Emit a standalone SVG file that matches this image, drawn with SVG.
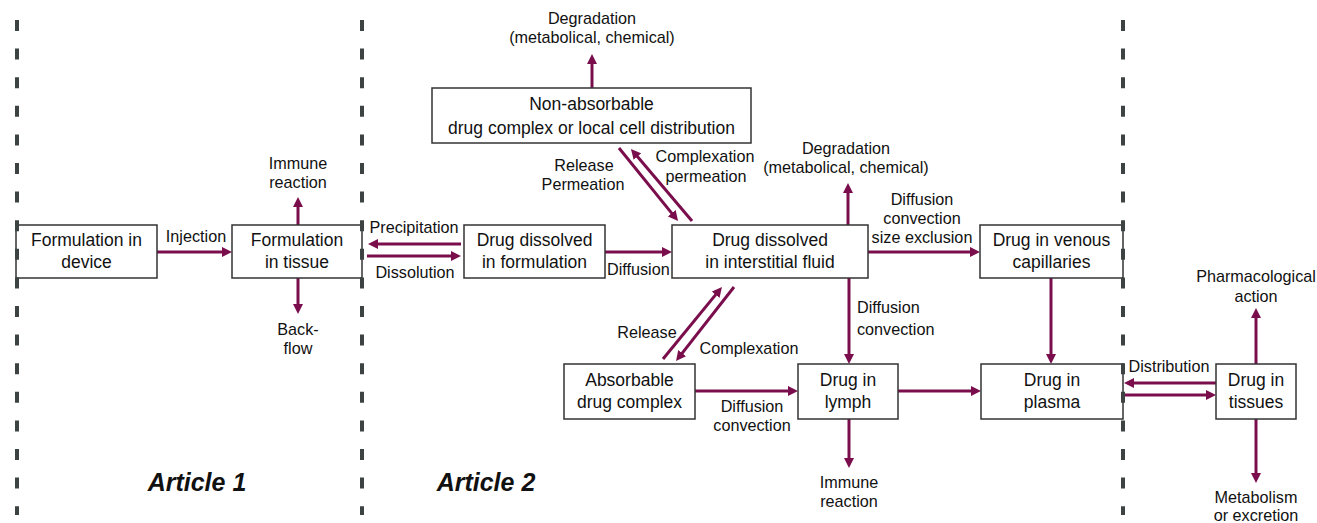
<svg xmlns="http://www.w3.org/2000/svg" width="1317" height="523" viewBox="0 0 1317 523">
<style>
.bg{fill:#ffffff}
.sep{stroke:#3d4343;stroke-width:4;stroke-dasharray:11 17.6;fill:none}
.box{fill:#ffffff;stroke:#333333;stroke-width:1.5}
.bt{font-family:"Liberation Sans",Arial,sans-serif;font-size:17.5px;fill:#111111;text-anchor:middle}
.lb{font-family:"Liberation Sans",Arial,sans-serif;font-size:16.2px;fill:#111111;text-anchor:middle}
.lbl{font-family:"Liberation Sans",Arial,sans-serif;font-size:16.2px;fill:#111111;text-anchor:start}
.art{font-family:"Liberation Sans",Arial,sans-serif;font-size:25px;font-weight:bold;font-style:italic;fill:#111111;text-anchor:middle}
.ar{stroke:#7a0e4c;stroke-width:3;fill:none;marker-end:url(#ah)}
</style>
<defs>
<marker id="ah" markerUnits="userSpaceOnUse" markerWidth="10" markerHeight="10" refX="5" refY="5" orient="auto">
<path d="M0,0 L10,5 L0,10 z" fill="#7a0e4c"/>
</marker>
</defs>
<rect class="bg" x="0" y="0" width="1317" height="523"/>
<g id="connectors">
<line class="ar" x1="157" y1="252" x2="227" y2="252"/>
<line class="ar" x1="298" y1="225" x2="298" y2="202"/>
<line class="ar" x1="298" y1="278" x2="298" y2="309"/>
<line class="ar" x1="461" y1="244" x2="373" y2="244"/>
<line class="ar" x1="367" y1="256" x2="456" y2="256"/>
<line class="ar" x1="605" y1="252" x2="667" y2="252"/>
<line class="ar" x1="592" y1="88" x2="592" y2="59"/>
<line class="ar" x1="619" y1="148" x2="674.9" y2="217.1"/>
<line class="ar" x1="692" y1="221" x2="634.2" y2="152.8"/>
<line class="ar" x1="848" y1="225" x2="848" y2="188"/>
<line class="ar" x1="868" y1="252" x2="975" y2="252"/>
<line class="ar" x1="849" y1="278" x2="849" y2="359"/>
<line class="ar" x1="663" y1="359" x2="718.8" y2="290.9"/>
<line class="ar" x1="734" y1="287" x2="679.1" y2="357.1"/>
<line class="ar" x1="695" y1="391" x2="793" y2="391"/>
<line class="ar" x1="898" y1="391" x2="976" y2="391"/>
<line class="ar" x1="849" y1="419" x2="849" y2="463"/>
<line class="ar" x1="1051" y1="278" x2="1051" y2="359"/>
<line class="ar" x1="1216" y1="383" x2="1129" y2="383"/>
<line class="ar" x1="1124" y1="395" x2="1211" y2="395"/>
<line class="ar" x1="1256" y1="364" x2="1256" y2="313"/>
<line class="ar" x1="1256" y1="419" x2="1256" y2="478"/>
</g>
<g id="labels">
<text class="lb" x="196" y="242">Injection</text>
<text class="lb" x="298" y="169">Immune</text>
<text class="lb" x="298" y="188">reaction</text>
<text class="lb" x="298" y="335">Back-</text>
<text class="lb" x="298" y="354">flow</text>
<text class="lb" x="414" y="233">Precipitation</text>
<text class="lb" x="415" y="278">Dissolution</text>
<text class="lbl" x="607" y="275">Diffusion</text>
<text class="lb" x="592" y="24">Degradation</text>
<text class="lb" x="592" y="43">(metabolical, chemical)</text>
<text class="lb" x="584" y="171">Release</text>
<text class="lb" x="583" y="190">Permeation</text>
<text class="lb" x="705" y="162">Complexation</text>
<text class="lb" x="706" y="182">permeation</text>
<text class="lb" x="846" y="154">Degradation</text>
<text class="lb" x="846" y="173">(metabolical, chemical)</text>
<text class="lb" x="922" y="205">Diffusion</text>
<text class="lb" x="922" y="224">convection</text>
<text class="lb" x="922" y="243">size exclusion</text>
<text class="lbl" x="857" y="313">Diffusion</text>
<text class="lbl" x="857" y="335">convection</text>
<text class="lb" x="647" y="338">Release</text>
<text class="lb" x="749" y="354">Complexation</text>
<text class="lb" x="752" y="412">Diffusion</text>
<text class="lb" x="752" y="431">convection</text>
<text class="lb" x="849" y="488">Immune</text>
<text class="lb" x="849" y="507">reaction</text>
<text class="lb" x="1169" y="372">Distribution</text>
<text class="lb" x="1256" y="282">Pharmacological</text>
<text class="lb" x="1256" y="302">action</text>
<text class="lb" x="1256" y="503">Metabolism</text>
<text class="lb" x="1256" y="521">or excretion</text>
<text class="art" x="197" y="491">Article 1</text>
<text class="art" x="486" y="491">Article 2</text>
</g>
<g id="node-device">
<rect class="box" x="16" y="225" width="141" height="53"/>
<text class="bt" x="86.5" y="246">Formulation in</text>
<text class="bt" x="86.5" y="268">device</text>
</g>
<g id="node-tissue">
<rect class="box" x="232" y="225" width="130" height="53"/>
<text class="bt" x="297" y="246">Formulation</text>
<text class="bt" x="297" y="268">in tissue</text>
</g>
<g id="node-formulation">
<rect class="box" x="464" y="225" width="141" height="53"/>
<text class="bt" x="534.5" y="246">Drug dissolved</text>
<text class="bt" x="534.5" y="268">in formulation</text>
</g>
<g id="node-interstitial">
<rect class="box" x="672" y="225" width="196" height="53"/>
<text class="bt" x="770" y="246">Drug dissolved</text>
<text class="bt" x="770" y="268">in interstitial fluid</text>
</g>
<g id="node-venous">
<rect class="box" x="980" y="225" width="143" height="53"/>
<text class="bt" x="1051.5" y="246">Drug in venous</text>
<text class="bt" x="1051.5" y="268">capillaries</text>
</g>
<g id="node-nonabsorbable">
<rect class="box" x="432" y="88" width="319" height="55"/>
<text class="bt" x="591.5" y="110">Non-absorbable</text>
<text class="bt" x="591.5" y="134">drug complex or local cell distribution</text>
</g>
<g id="node-absorbable">
<rect class="box" x="564" y="364" width="131" height="55"/>
<text class="bt" x="629.5" y="386">Absorbable</text>
<text class="bt" x="629.5" y="408">drug complex</text>
</g>
<g id="node-lymph">
<rect class="box" x="798" y="364" width="100" height="55"/>
<text class="bt" x="848" y="386">Drug in</text>
<text class="bt" x="848" y="408">lymph</text>
</g>
<g id="node-plasma">
<rect class="box" x="981" y="364" width="142" height="55"/>
<text class="bt" x="1052" y="386">Drug in</text>
<text class="bt" x="1052" y="408">plasma</text>
</g>
<g id="node-tissues">
<rect class="box" x="1216" y="364" width="80" height="55"/>
<text class="bt" x="1256" y="386">Drug in</text>
<text class="bt" x="1256" y="408">tissues</text>
</g>
<g id="separators">
<line class="sep" x1="17" y1="20" x2="17" y2="515"/>
<line class="sep" x1="362" y1="20" x2="362" y2="515"/>
<line class="sep" x1="1123" y1="20" x2="1123" y2="515"/>
</g>
</svg>
